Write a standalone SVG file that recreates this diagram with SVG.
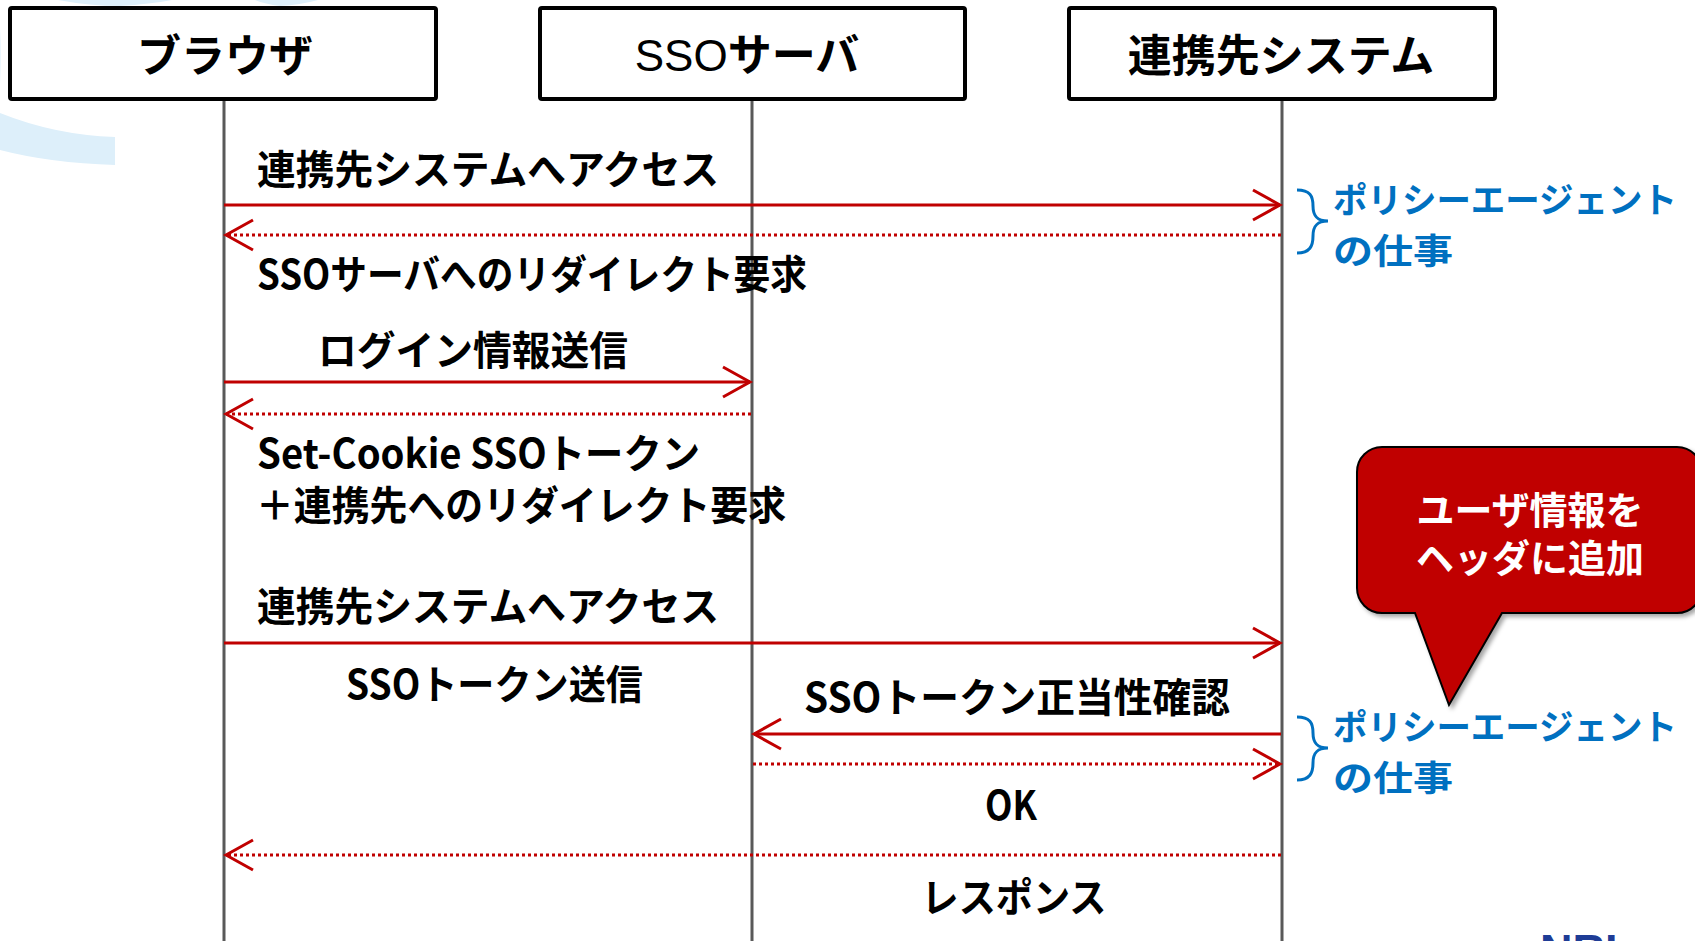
<svg xmlns="http://www.w3.org/2000/svg" width="1695" height="941" viewBox="0 0 1695 941">
<style>
.box{fill:#fff;stroke:#000;stroke-width:4}
.life{stroke:#595959;stroke-width:3;fill:none}
.hdr{font-family:"Noto Sans CJK JP","Liberation Sans",sans-serif;font-weight:bold;font-size:44px;fill:#000}
.lbl{font-family:"Noto Sans CJK JP","Liberation Sans",sans-serif;font-weight:bold;font-size:40px;fill:#000}
.blue{font-family:"Noto Sans CJK JP",sans-serif;font-weight:bold;font-size:35px;fill:#0070C0}
.brace{fill:none;stroke:#0070C0;stroke-width:3}
.msg{stroke:#C00000;stroke-width:3;fill:none}
.dot{stroke-dasharray:3 3}
.call{font-family:"Noto Sans CJK JP",sans-serif;font-weight:bold;font-size:38px;fill:#fff}
.wm{fill:#DDEFFA}
</style>
<defs>
<marker id="ah" viewBox="-30 -18 33 36" markerWidth="33" markerHeight="36" refX="0" refY="0" orient="auto" markerUnits="userSpaceOnUse">
<path d="M-27,-15 L0,0 L-27,15" fill="none" stroke="#C00000" stroke-width="3"/>
</marker>
<filter id="sh" x="-10%" y="-10%" width="130%" height="130%">
<feDropShadow dx="3" dy="3" stdDeviation="2" flood-color="#000" flood-opacity="0.35"/>
</filter>
</defs>

<g id="watermark">
<path class="wm" d="M0,28 C2,70 -2,110 0,113 Q55,135 115,137 V165 Q50,163 0,150 Z"/>
<path class="wm" d="M58,0 H172 Q150,4 120,6 Q90,6 58,0 Z"/>
<path class="wm" d="M255,0 H318 Q300,5 280,6 Q265,4 255,0 Z"/>
</g>

<g id="lifelines">
<line class="life" x1="224" y1="99" x2="224" y2="941"/>
<line class="life" x1="752" y1="99" x2="752" y2="941"/>
<line class="life" x1="1282" y1="99" x2="1282" y2="941"/>
</g>

<g id="browser">
<rect class="box" x="10" y="8" width="426" height="91" rx="2"/>
<text class="hdr" x="225" y="72" text-anchor="middle">ブラウザ</text>
</g>
<g id="sso-server">
<rect class="box" x="540" y="8" width="425" height="91" rx="2"/>
<text class="hdr" x="747" y="71" text-anchor="middle"><tspan font-family="Liberation Sans, sans-serif" font-weight="normal">SSO</tspan>サーバ</text>
</g>
<g id="partner-system">
<rect class="box" x="1069" y="8" width="426" height="91" rx="2"/>
<text class="hdr" x="1281" y="72" text-anchor="middle">連携先システム</text>
</g>

<g id="connectors">
<line class="msg" x1="224" y1="205" x2="1280" y2="205" marker-end="url(#ah)"/>
<line class="msg dot" x1="1281" y1="235" x2="226" y2="235" marker-end="url(#ah)"/>
<line class="msg" x1="224" y1="382" x2="750" y2="382" marker-end="url(#ah)"/>
<line class="msg dot" x1="751" y1="414" x2="226" y2="414" marker-end="url(#ah)"/>
<line class="msg" x1="224" y1="643" x2="1280" y2="643" marker-end="url(#ah)"/>
<line class="msg" x1="1281" y1="734" x2="754" y2="734" marker-end="url(#ah)"/>
<line class="msg dot" x1="753" y1="764" x2="1280" y2="764" marker-end="url(#ah)"/>
<line class="msg dot" x1="1281" y1="855" x2="226" y2="855" marker-end="url(#ah)"/>
</g>

<g id="labels">
<text class="lbl" x="257" y="184" textLength="462" lengthAdjust="spacingAndGlyphs">連携先システムへアクセス</text>
<text class="lbl" x="257" y="289" textLength="550" lengthAdjust="spacingAndGlyphs">SSOサーバへのリダイレクト要求</text>
<text class="lbl" x="318" y="365" textLength="310" lengthAdjust="spacingAndGlyphs">ログイン情報送信</text>
<text class="lbl" x="257" y="468" textLength="443" lengthAdjust="spacingAndGlyphs">Set-Cookie SSOトークン</text>
<text class="lbl" x="256" y="520" textLength="530" lengthAdjust="spacingAndGlyphs">＋連携先へのリダイレクト要求</text>
<text class="lbl" x="257" y="621" textLength="462" lengthAdjust="spacingAndGlyphs">連携先システムへアクセス</text>
<text class="lbl" x="346" y="699" textLength="297" lengthAdjust="spacingAndGlyphs">SSOトークン送信</text>
<text class="lbl" x="804" y="712" textLength="426" lengthAdjust="spacingAndGlyphs">SSOトークン正当性確認</text>
<text class="lbl" x="1011" y="820" text-anchor="middle" textLength="52" lengthAdjust="spacingAndGlyphs">OK</text>
<text class="lbl" x="1014" y="912" text-anchor="middle" textLength="185" lengthAdjust="spacingAndGlyphs">レスポンス</text>
</g>

<g id="policy-agent-1">
<path class="brace" d="M1297,190 C1310,190 1313,196 1313,206 C1313,216 1317,221 1328,221 C1317,221 1313,226 1313,236 C1313,246 1310,253 1297,253"/>
<text class="blue" x="1333" y="213" textLength="344" lengthAdjust="spacingAndGlyphs">ポリシーエージェント</text>
<text class="blue" x="1333" y="264" textLength="120" lengthAdjust="spacingAndGlyphs">の仕事</text>
</g>
<g id="policy-agent-2">
<path class="brace" d="M1297,717 C1310,717 1313,723 1313,733 C1313,743 1317,748 1328,748 C1317,748 1313,753 1313,763 C1313,773 1310,780 1297,780"/>
<text class="blue" x="1333" y="740" textLength="344" lengthAdjust="spacingAndGlyphs">ポリシーエージェント</text>
<text class="blue" x="1333" y="791" textLength="120" lengthAdjust="spacingAndGlyphs">の仕事</text>
</g>

<g id="callout">
<path d="M1382,447 H1677 A25,25 0 0 1 1702,472 V588 A25,25 0 0 1 1677,613 H1502 L1449,705 L1415,613 H1382 A25,25 0 0 1 1357,588 V472 A25,25 0 0 1 1382,447 Z" fill="#C00000" stroke="#000" stroke-width="2" filter="url(#sh)"/>
<text class="call" x="1530" y="524" text-anchor="middle">ユーザ情報を</text>
<text class="call" x="1530" y="572" text-anchor="middle">ヘッダに追加</text>
</g>

<g id="logo">
<text x="1540" y="966" font-family="Liberation Sans, sans-serif" font-weight="bold" font-size="45" fill="#1E3C96">NRI</text>
</g>
</svg>
